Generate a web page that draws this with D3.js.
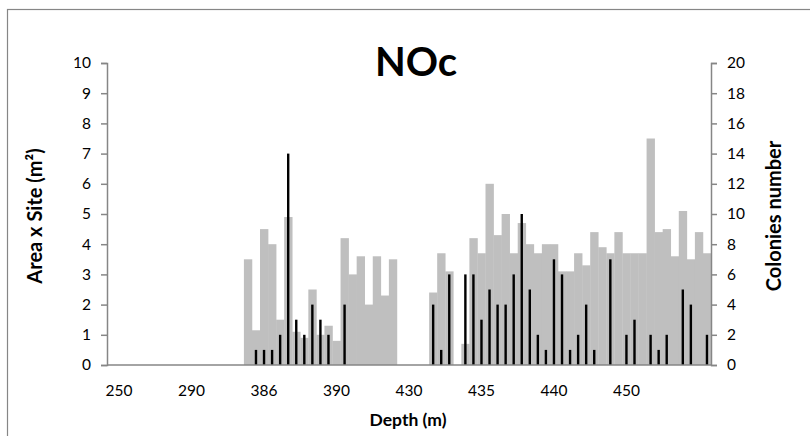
<!DOCTYPE html>
<html>
<head>
<meta charset="utf-8">
<script src="https://cdn.jsdelivr.net/npm/d3@7"></script>
<style>
  html, body { margin: 0; padding: 0; background: #fff; }
  svg { display: block; }
  text { font-family: Lato, "Open Sans", "Liberation Sans", sans-serif; fill: #000; }
</style>
</head>
<body>
<svg id="chart" width="810" height="436"></svg>
<script>
// ---- data ----
const title = "NOc";
const xTitle = "Depth (m)";
const yLeftTitle = "Area x Site (m²)";
const yRightTitle = "Colonies number";

// 75 depth categories (only every 9th labelled on the axis, starting at the 2nd)
const xTickLabels = ["250", "290", "386", "390", "430", "435", "440", "450"];

// Area x Site (m²), left axis
const areaValues = [
  0, 0, 0, 0, 0, 0, 0, 0, 0, 0,
  0, 0, 0, 0, 0, 0, 0, 3.5, 1.15, 4.5,
  4.0, 1.5, 4.9, 1.1, 0.9, 2.5, 1.0, 1.3, 0.8, 4.2,
  3.0, 3.6, 2.0, 3.6, 2.3, 3.5, 0, 0, 0, 0,
  2.4, 3.7, 3.1, 0, 0.7, 4.2, 3.7, 6.0, 4.3, 5.0,
  3.7, 4.7, 4.0, 3.7, 4.0, 4.0, 3.1, 3.1, 3.7, 3.3,
  4.4, 3.9, 3.7, 4.4, 3.7, 3.7, 3.7, 7.5, 4.4, 4.5,
  3.6, 5.1, 3.5, 4.4, 3.7
];

// Colonies number, right axis
const colonyValues = [
  0, 0, 0, 0, 0, 0, 0, 0, 0, 0,
  0, 0, 0, 0, 0, 0, 0, 0, 1, 1,
  1, 2, 14, 3, 2, 4, 3, 2, 0, 4,
  0, 0, 0, 0, 0, 0, 0, 0, 0, 0,
  4, 1, 6, 0, 6, 6, 3, 5, 4, 4,
  6, 10, 5, 2, 1, 7, 6, 1, 2, 4,
  1, 0, 7, 0, 2, 3, 0, 2, 1, 2,
  0, 5, 4, 0, 2
];

const leftTicks = [0, 1, 2, 3, 4, 5, 6, 7, 8, 9, 10];
const rightTicks = [0, 2, 4, 6, 8, 10, 12, 14, 16, 18, 20];

// ---- layout ----
const svg = d3.select("#chart");
const W = 810, H = 436;
const plot = { left: 107, right: 711, top: 63, bottom: 365 };
const axisColor = "#868686";

const categories = areaValues.map((d, i) => i);
const labelStart = 1, labelStep = 9;

const x = d3.scaleBand().domain(categories).range([plot.left, plot.right]).padding(0);
const yL = d3.scaleLinear().domain([0, 10]).range([plot.bottom, plot.top]);
const yR = d3.scaleLinear().domain([0, 20]).range([plot.bottom, plot.top]);

// chart border
svg.append("rect")
  .attr("x", 7.5).attr("y", 9.5)
  .attr("width", W).attr("height", H)
  .attr("fill", "none").attr("stroke", axisColor).attr("stroke-width", 1.2);

// area bars
svg.append("g").selectAll("rect")
  .data(areaValues.map((v, i) => ({ i, v })).filter(d => d.v > 0))
  .join("rect")
  .attr("x", d => x(d.i))
  .attr("width", x.bandwidth() + 0.3)
  .attr("y", d => yL(d.v))
  .attr("height", d => yL(0) - yL(d.v))
  .attr("fill", "#bfbfbf");

// colony bars
const cw = 2.4;
svg.append("g").selectAll("rect")
  .data(colonyValues.map((v, i) => ({ i, v })).filter(d => d.v > 0))
  .join("rect")
  .attr("x", d => x(d.i) + x.bandwidth() / 2 - cw / 2)
  .attr("width", cw)
  .attr("y", d => yR(d.v))
  .attr("height", d => yR(0) - yR(d.v))
  .attr("fill", "#000");

// left axis
const gL = svg.append("g").attr("transform", `translate(${plot.left},0)`)
  .call(d3.axisLeft(yL).tickValues(leftTicks).tickSize(6).tickPadding(10).tickFormat(d3.format("d")));
// right axis
const gR = svg.append("g").attr("transform", `translate(${plot.right},0)`)
  .call(d3.axisRight(yR).tickValues(rightTicks).tickSize(6).tickPadding(10).tickFormat(d3.format("d")));
// x axis
const xTickCats = xTickLabels.map((l, j) => labelStart + j * labelStep);
const gX = svg.append("g").attr("transform", `translate(0,${plot.bottom})`)
  .call(d3.axisBottom(x).tickValues(xTickCats).tickSize(0).tickPadding(20)
    .tickFormat(d => xTickLabels[(d - labelStart) / labelStep]));

[gL, gR, gX].forEach(g => {
  g.select(".domain").attr("stroke", axisColor).attr("stroke-width", 1.5);
  g.selectAll(".tick line").attr("stroke", axisColor).attr("stroke-width", 1.5);
  g.selectAll(".tick text").attr("font-size", 15.5).attr("fill", "#000")
    .style("font-family", "Lato, 'Open Sans', sans-serif");
});
gX.select(".domain").attr("d", `M${plot.left},0H${plot.right}`);

// titles
svg.append("text")
  .attr("x", 416).attr("y", 76)
  .attr("text-anchor", "middle")
  .attr("font-size", 40).attr("font-weight", "bold")
  .text(title);

svg.append("text")
  .attr("x", 408).attr("y", 426)
  .attr("text-anchor", "middle")
  .attr("font-size", 17.5).attr("font-weight", "bold")
  .text(xTitle);

svg.append("text")
  .attr("transform", `translate(42,${(plot.top + plot.bottom) / 2 + 2}) rotate(-90)`)
  .attr("text-anchor", "middle")
  .attr("font-size", 20).attr("font-weight", "bold")
  .text(yLeftTitle);

svg.append("text")
  .attr("transform", `translate(781,${(plot.top + plot.bottom) / 2 + 2}) rotate(-90)`)
  .attr("text-anchor", "middle")
  .attr("font-size", 20).attr("font-weight", "bold")
  .text(yRightTitle);
</script>
</body>
</html>
